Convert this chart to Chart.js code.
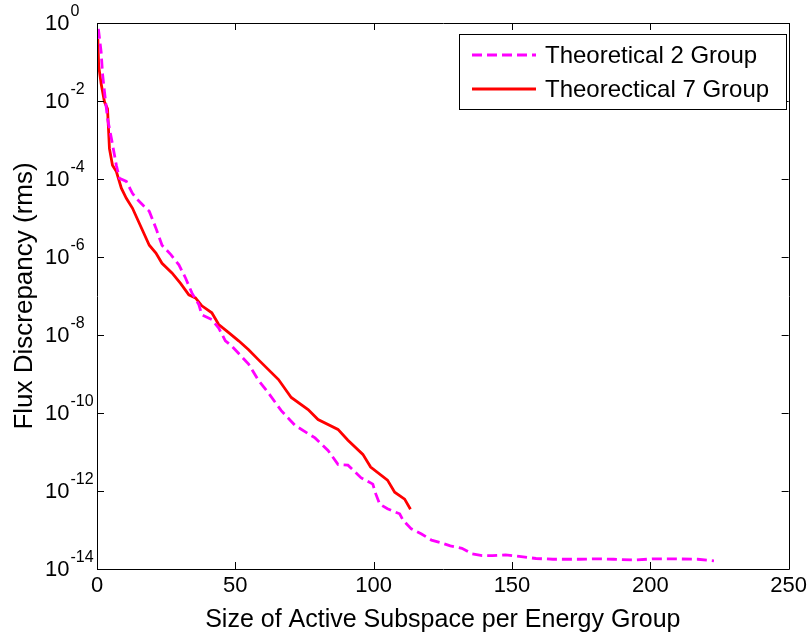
<!DOCTYPE html>
<html>
<head>
<meta charset="utf-8">
<script src="https://cdn.jsdelivr.net/npm/chart.js@4.4.1/dist/chart.umd.min.js"></script>
<style>
  html, body { margin: 0; padding: 0; background: #ffffff; }
  #wrap { width: 811px; height: 637px; position: relative; }
</style>
</head>
<body>
<div id="wrap"><canvas id="c" width="811" height="637"></canvas></div>
<script>
// ---- data ----
const seriesNames = ["Theoretical 2 Group", "Theorectical 7 Group"];

const group2X = [0.5, 1.5, 2, 2.7, 3.8, 5.2, 7, 8.1, 10.6, 12.8, 14.2, 17, 18.9, 21.3, 23.5, 26.7, 29.6, 32.0, 34.3, 36.8, 37.9, 41.5, 44.0, 46.4, 48.7, 54.8, 58.4, 61.9, 66.6, 71.6, 78.8, 83.5, 87.1, 90.7, 95.4, 99.7, 100.8, 102.2, 105.0, 109.4, 110.6, 113.6, 117.3, 120.9, 124.0, 127.7, 131.9, 135.6, 139.2, 142.9, 147.7, 152.6, 158.7, 164.8, 174.5, 180.6, 186.7, 194.0, 201.3, 208.6, 217.1, 223];
const group2Y = [7.1e-1, 1.8e-1, 5.0e-2, 1.74e-2, 3.55e-3, 1.1e-3, 2.24e-4, 1.05e-4, 8.7e-5, 4.3e-5, 3.2e-5, 2.0e-5, 1.48e-5, 5.5e-6, 2.0e-6, 1.15e-6, 6.3e-7, 2.9e-7, 1.2e-7, 6.0e-8, 3.3e-8, 2.5e-8, 1.5e-8, 7.1e-9, 5.2e-9, 1.8e-9, 6.8e-10, 3.3e-10, 1.15e-10, 4.8e-11, 2.3e-11, 1.1e-11, 4.8e-12, 4.6e-12, 2.2e-12, 1.5e-12, 8.3e-13, 4.6e-13, 3.5e-13, 2.6e-13, 1.8e-13, 1.07e-13, 7.9e-14, 5.5e-14, 4.8e-14, 3.9e-14, 3.4e-14, 2.45e-14, 2.2e-14, 2.2e-14, 2.3e-14, 2.1e-14, 1.86e-14, 1.78e-14, 1.78e-14, 1.82e-14, 1.78e-14, 1.7e-14, 1.82e-14, 1.82e-14, 1.78e-14, 1.62e-14];

const group7X = [0.3, 0.6, 1.5, 2.7, 3.8, 4.5, 5.6, 7, 8.8, 10.6, 12.8, 18.9, 21.3, 23.5, 27.1, 30.2, 33.2, 35.6, 37.9, 41.5, 44.0, 47.6, 51.2, 54.8, 58.4, 65.6, 70.2, 76.3, 79.9, 87.1, 90.7, 96.1, 98.9, 105.0, 107.6, 111.2, 113.3];
const group7Y = [3.9e-1, 8.1e-2, 2.75e-2, 9.5e-3, 6.3e-3, 6.0e-4, 2.24e-4, 1.55e-4, 5.8e-5, 3.2e-5, 1.8e-5, 2.0e-6, 1.26e-6, 6.9e-7, 3.9e-7, 2.1e-7, 1.07e-7, 8.9e-8, 5.6e-8, 3.7e-8, 1.86e-8, 1.15e-8, 7.1e-9, 4.2e-9, 2.3e-9, 7.2e-10, 2.5e-10, 1.23e-10, 6.8e-11, 3.8e-11, 2.0e-11, 8.7e-12, 4.1e-12, 1.9e-12, 9.3e-13, 6.2e-13, 3.4e-13];

const xTicks = [0, 50, 100, 150, 200, 250];
const yTickExponents = [0, -2, -4, -6, -8, -10, -12, -14];
const xTitle = "Size of Active Subspace per Energy Group";
const yTitle = "Flux Discrepancy (rms)";

// ---- build ----
const FONT = "'Liberation Sans', Arial, Helvetica, sans-serif";
const toPts = (xs, ys) => xs.map((x, i) => ({ x: x, y: ys[i] }));

const CA = { left: 97, right: 794, top: 23, bottom: 569 };
const W = 811, H = 637;

const framePlugin = {
  id: 'matlabFrame',
  afterDatasetsDraw(chart) {
    const ctx = chart.ctx;
    const a = chart.chartArea;
    const xs = chart.scales.x, ys = chart.scales.y;
    ctx.save();
    ctx.strokeStyle = '#000';
    ctx.lineWidth = 1;
    ctx.beginPath();
    ctx.rect(Math.round(a.left) + 0.5, Math.round(a.top) + 0.5,
             Math.round(a.right - a.left), Math.round(a.bottom - a.top));
    ctx.stroke();
    // inward ticks on all four sides
    const tl = 7;
    ctx.beginPath();
    xTicks.forEach(v => {
      const px = Math.round(xs.getPixelForValue(v)) + 0.5;
      ctx.moveTo(px, a.bottom); ctx.lineTo(px, a.bottom - tl);
      ctx.moveTo(px, a.top); ctx.lineTo(px, a.top + tl);
    });
    yTickExponents.forEach(e => {
      const py = Math.round(ys.getPixelForValue(Math.pow(10, e))) + 0.5;
      ctx.moveTo(a.left, py); ctx.lineTo(a.left + tl, py);
      ctx.moveTo(a.right, py); ctx.lineTo(a.right - tl, py);
    });
    ctx.stroke();
    // y tick labels: 10 with superscript exponent
    ctx.fillStyle = '#000';
    ctx.textBaseline = 'middle';
    ctx.textAlign = 'left';
    yTickExponents.forEach(e => {
      const py = ys.getPixelForValue(Math.pow(10, e));
      ctx.font = '22px ' + FONT;
      ctx.fillText('10', 45, py + 1);
      const w = ctx.measureText('10').width;
      ctx.font = '16px ' + FONT;
      ctx.fillText(String(e), 45 + w + 1, py - 11);
    });
    // legend box
    const bx = 459, by = 34, bw = 327, bh = 75;
    ctx.fillStyle = '#fff';
    ctx.fillRect(bx, by, bw, bh);
    ctx.strokeStyle = '#000';
    ctx.lineWidth = 1;
    ctx.strokeRect(bx + 0.5, by + 0.5, bw, bh);
    const rows = [55, 89];
    chart.data.datasets.forEach((ds, i) => {
      ctx.save();
      ctx.strokeStyle = ds.borderColor;
      ctx.lineWidth = ds.borderWidth;
      ctx.setLineDash(ds.borderDash || []);
      ctx.beginPath();
      ctx.moveTo(472, rows[i]);
      ctx.lineTo(536, rows[i]);
      ctx.stroke();
      ctx.restore();
      ctx.fillStyle = '#000';
      ctx.font = '24px ' + FONT;
      ctx.textBaseline = 'middle';
      ctx.textAlign = 'left';
      ctx.fillText(ds.label, 545, rows[i] + 1);
    });
    ctx.restore();
  }
};

new Chart(document.getElementById('c'), {
  type: 'line',
  data: {
    datasets: [
      {
        label: seriesNames[0],
        data: toPts(group2X, group2Y),
        borderColor: '#FF00FF',
        backgroundColor: '#FF00FF',
        borderWidth: 2.8,
        borderDash: [10, 5],
        pointRadius: 0,
        tension: 0,
        fill: false
      },
      {
        label: seriesNames[1],
        data: toPts(group7X, group7Y),
        borderColor: '#FF0000',
        backgroundColor: '#FF0000',
        borderWidth: 2.8,
        pointRadius: 0,
        tension: 0,
        fill: false
      }
    ]
  },
  options: {
    responsive: false,
    animation: false,
    devicePixelRatio: 1,
    layout: { padding: { top: CA.top, right: W - CA.right, left: 0, bottom: 0 } },
    plugins: { legend: { display: false }, tooltip: { enabled: false } },
    scales: {
      x: {
        type: 'linear',
        min: 0, max: 250,
        afterBuildTicks: s => { s.ticks = xTicks.map(v => ({ value: v })); },
        afterFit: s => { s.height = H - CA.bottom; },
        grid: { display: false, drawTicks: false },
        border: { display: false },
        ticks: {
          color: '#000',
          font: { family: FONT, size: 22 },
          padding: 4,
          maxRotation: 0,
          autoSkip: false
        },
        title: {
          display: true,
          text: xTitle,
          color: '#000',
          font: { family: FONT, size: 25 },
          padding: { top: 0, bottom: 2 }
        }
      },
      y: {
        type: 'logarithmic',
        min: 1e-14, max: 1,
        afterBuildTicks: s => { s.ticks = yTickExponents.map(e => ({ value: Math.pow(10, e) })); },
        afterFit: s => { s.width = CA.left; },
        grid: { display: false, drawTicks: false },
        border: { display: false },
        ticks: { display: false },
        title: {
          display: true,
          text: yTitle,
          color: '#000',
          font: { family: FONT, size: 26 },
          padding: { top: 9, bottom: 0 }
        }
      }
    }
  },
  plugins: [framePlugin]
});
</script>
</body>
</html>
